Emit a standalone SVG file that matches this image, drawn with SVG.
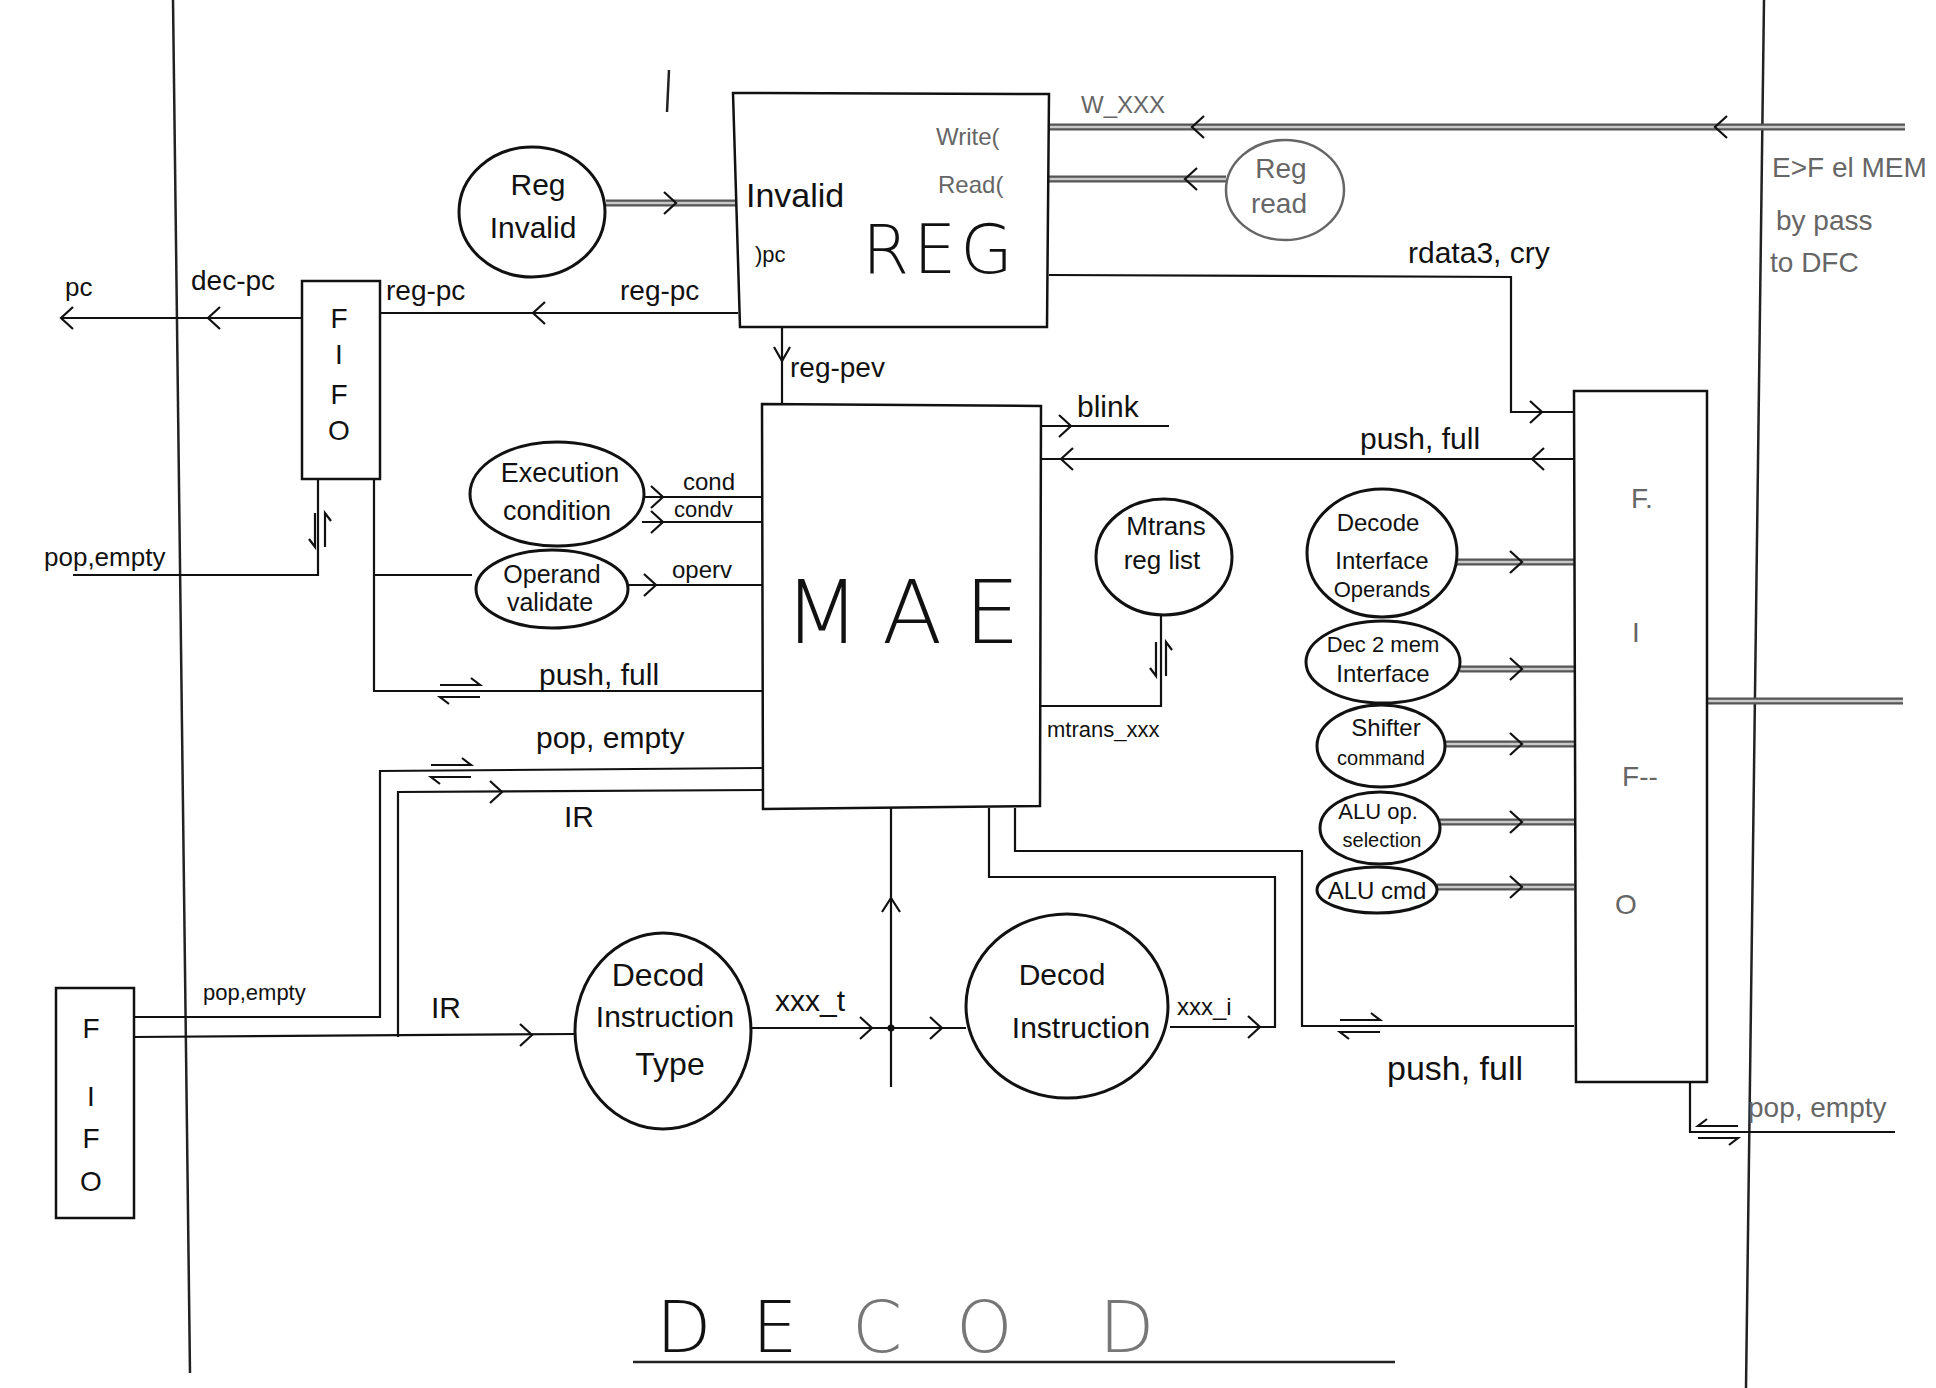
<svg xmlns="http://www.w3.org/2000/svg" xmlns:xlink="http://www.w3.org/1999/xlink" width="1936" height="1388" viewBox="0 0 1936 1388">
<style>
  text { font-family: "Liberation Sans", "DejaVu Sans", sans-serif; fill: #111; }
  .thin { font-family: "DejaVu Sans", "Liberation Sans", sans-serif; font-weight: 200; }
  .box { fill: #fff; stroke: #111; stroke-width: 2.5; }
  .bubble { fill: #fff; stroke: #111; stroke-width: 3; }
  .bubble-g { fill: #fff; stroke: #666; stroke-width: 2.5; }
  .wire { fill: none; stroke: #111; stroke-width: 2.2; }
  .frame { fill: none; stroke: #222; stroke-width: 2.5; }
  .bus-o { fill: none; stroke: #555; stroke-width: 7; }
  .bus-i { fill: none; stroke: #c8c8c8; stroke-width: 2.5; }
  .g { fill: #666; }
  .c { text-anchor: middle; }
  .fifo { font-size: 28px; text-anchor: middle; }
</style>
<defs>
  <path id="cr" d="M-7,-11 L5,0 L-7,11" fill="none" stroke="#111" stroke-width="2.2"/>
  <path id="cl" d="M7,-11 L-5,0 L7,11" fill="none" stroke="#111" stroke-width="2.2"/>
  <path id="cu" d="M-9,8 L0,-6 L9,8" fill="none" stroke="#111" stroke-width="2.2"/>
  <path id="cd" d="M-8,-8 L0,6 L8,-8" fill="none" stroke="#111" stroke-width="2.2"/>
  <path id="dh" d="M0,-6 H40 L31,-13 M40,6 H0 L9,13" fill="none" stroke="#111" stroke-width="2.2"/>
  <path id="dv" d="M-5,0 V34 L-11,26 M5,34 V0 L11,8" fill="none" stroke="#111" stroke-width="2.2"/>
</defs>

<!-- page frame lines -->
<g id="frame">
  <path class="frame" d="M173,0 L190,1373"/>
  <path class="frame" d="M1764,0 L1746,1388" stroke="#444" stroke-width="2"/>
  <path class="frame" d="M669,70 L667,112"/>
</g>

<!-- connectors -->
<g id="connectors">
  <!-- bus (double grey) lines -->
  <path class="bus-o" d="M606,203 H736"/><path class="bus-i" d="M606,203 H736"/>
  <path class="bus-o" d="M1049,127 H1905"/><path class="bus-i" d="M1049,127 H1905"/>
  <path class="bus-o" d="M1049,179 H1226"/><path class="bus-i" d="M1049,179 H1226"/>
  <path class="bus-o" d="M1457,562 H1574"/><path class="bus-i" d="M1457,562 H1574"/>
  <path class="bus-o" d="M1460,669 H1574"/><path class="bus-i" d="M1460,669 H1574"/>
  <path class="bus-o" d="M1446,744 H1574"/><path class="bus-i" d="M1446,744 H1574"/>
  <path class="bus-o" d="M1440,822 H1574"/><path class="bus-i" d="M1440,822 H1574"/>
  <path class="bus-o" d="M1437,887 H1574"/><path class="bus-i" d="M1437,887 H1574"/>
  <path class="bus-o" d="M1707,701 H1903" stroke="#999"/><path class="bus-i" d="M1707,701 H1903" stroke="#ddd"/>
  <use href="#cr" x="671" y="203"/>
  <use href="#cl" x="1197" y="127"/>
  <use href="#cl" x="1720" y="127"/>
  <use href="#cl" x="1190" y="179"/>
  <use href="#cr" x="1517" y="562"/>
  <use href="#cr" x="1517" y="669"/>
  <use href="#cr" x="1517" y="744"/>
  <use href="#cr" x="1517" y="822"/>
  <use href="#cr" x="1517" y="887"/>

  <!-- thin wires -->
  <path class="wire" d="M302,318 H61"/>
  <use href="#cl" x="213" y="318"/>
  <use href="#cl" x="66" y="318"/>
  <path class="wire" d="M738,313 H380"/>
  <use href="#cl" x="538" y="313"/>
  <path class="wire" d="M318,480 V575 H73"/>
  <use href="#dv" x="320" y="513"/>
  <path class="wire" d="M374,480 V691 H762"/>
  <use href="#dh" x="440" y="691"/>
  <path class="wire" d="M374,575 H472"/>
  <path class="wire" d="M644,497 H762"/>
  <use href="#cr" x="658" y="497"/>
  <path class="wire" d="M642,522 H762"/>
  <use href="#cr" x="658" y="522"/>
  <path class="wire" d="M628,585 H762"/>
  <use href="#cr" x="651" y="585"/>
  <path class="wire" d="M134,1017 H380 V771 L762,768"/>
  <use href="#dh" x="431" y="771"/>
  <path class="wire" d="M398,1037 V792 L762,790"/>
  <use href="#cr" x="497" y="792"/>
  <path class="wire" d="M134,1037 L576,1034"/>
  <use href="#cr" x="527" y="1035"/>
  <path class="wire" d="M782,327 V404"/>
  <use href="#cd" x="782" y="355"/>
  <path class="wire" d="M1041,426 H1169"/>
  <use href="#cr" x="1066" y="426"/>
  <path class="wire" d="M1041,459 H1574"/>
  <use href="#cl" x="1066" y="459"/>
  <use href="#cl" x="1537" y="459"/>
  <path class="wire" d="M1049,275 L1511,277 V412 H1574"/>
  <use href="#cr" x="1537" y="412"/>
  <path class="wire" d="M1161,615 V706 H1041"/>
  <use href="#dv" x="1161" y="642"/>
  <path class="wire" d="M750,1028 H966"/>
  <use href="#cr" x="867" y="1028"/>
  <use href="#cr" x="937" y="1028"/>
  <circle cx="891" cy="1028" r="3.5" fill="#111"/>
  <path class="wire" d="M891,1087 V807"/>
  <use href="#cu" x="891" y="904"/>
  <path class="wire" d="M1015,808 V851 H1302 V1026 H1574"/>
  <use href="#dh" x="1340" y="1026"/>
  <path class="wire" d="M1170,1027 H1275 V877 H989 V808"/>
  <use href="#cr" x="1255" y="1027"/>
  <path class="wire" d="M1690,1082 V1132 H1895"/>
  <use href="#dh" x="1697" y="1132" transform="translate(3435,0) scale(-1,1)"/>

  <!-- connector labels -->
  <text x="65" y="296" font-size="26">pc</text>
  <text x="191" y="290" font-size="28">dec-pc</text>
  <text x="386" y="300" font-size="28">reg-pc</text>
  <text x="620" y="300" font-size="28">reg-pc</text>
  <text x="44" y="566" font-size="26">pop,empty</text>
  <text x="790" y="377" font-size="28">reg-pev</text>
  <text x="1081" y="113" font-size="24" class="g">W_XXX</text>
  <text x="1408" y="263" font-size="30">rdata3, cry</text>
  <text x="1077" y="417" font-size="30">blink</text>
  <text x="1360" y="449" font-size="30">push, full</text>
  <text x="683" y="490" font-size="24">cond</text>
  <text x="674" y="517" font-size="22" fill="#444">condv</text>
  <text x="672" y="578" font-size="24">operv</text>
  <text x="539" y="685" font-size="30">push, full</text>
  <text x="536" y="748" font-size="30">pop, empty</text>
  <text x="564" y="827" font-size="30">IR</text>
  <text x="1047" y="737" font-size="22">mtrans_xxx</text>
  <text x="203" y="1000" font-size="22">pop,empty</text>
  <text x="431" y="1018" font-size="30">IR</text>
  <text x="775" y="1011" font-size="30">xxx_t</text>
  <text x="1177" y="1015" font-size="24">xxx_i</text>
  <text x="1387" y="1080" font-size="34">push, full</text>
  <text x="1748" y="1117" font-size="28" class="g">pop, empty</text>
</g>

<!-- REG -->
<g id="reg">
  <path class="box" d="M733,93 L1049,94 L1047,327 L740,327 Z"/>
  <text x="746" y="207" font-size="34">Invalid</text>
  <text x="755" y="262" font-size="22">)pc</text>
  <text x="936" y="145" font-size="24" class="g">Write(</text>
  <text x="938" y="193" font-size="24" class="g">Read(</text>
  <text class="thin" x="862" y="273" font-size="68" letter-spacing="4">REG</text>
</g>

<!-- MAE -->
<g id="mae">
  <path class="box" d="M762,404 L1041,406 L1040,806 L763,809 Z"/>
  <text class="thin" x="784" y="643" font-size="88" letter-spacing="22">MAE</text>
</g>

<!-- FIFO top-left -->
<g id="fifo-top-left">
  <rect class="box" x="302" y="281" width="78" height="198"/>
  <text class="fifo" x="339" y="328">F</text>
  <text class="fifo" x="339" y="364" font-size="24">I</text>
  <text class="fifo" x="339" y="404">F</text>
  <text class="fifo" x="339" y="440">O</text>
</g>

<!-- FIFO bottom-left -->
<g id="fifo-bottom-left">
  <rect class="box" x="56" y="988" width="78" height="230"/>
  <text class="fifo" x="91" y="1038">F</text>
  <text class="fifo" x="91" y="1106" font-size="24">I</text>
  <text class="fifo" x="91" y="1148">F</text>
  <text class="fifo" x="91" y="1191">O</text>
</g>

<!-- FIFO right -->
<g id="fifo-right">
  <path class="box" d="M1574,391 L1707,391 L1707,1082 L1576,1082 Z" stroke-width="2"/>
  <text class="fifo g" x="1642" y="508" font-size="38">F.</text>
  <text class="fifo g" x="1636" y="642" font-size="38">I</text>
  <text class="fifo g" x="1640" y="786" font-size="38">F--</text>
  <text class="fifo g" x="1626" y="914" font-size="38">O</text>
</g>

<g id="reg-invalid">
  <ellipse class="bubble" cx="532" cy="212" rx="73" ry="65"/>
  <text class="c" x="538" y="195" font-size="30">Reg</text>
  <text class="c" x="533" y="238" font-size="30">Invalid</text>
</g>

<g id="reg-read">
  <ellipse class="bubble-g" cx="1285" cy="190" rx="59" ry="50"/>
  <text class="c g" x="1281" y="178" font-size="28">Reg</text>
  <text class="c g" x="1279" y="213" font-size="28">read</text>
</g>

<g id="execution-condition">
  <ellipse class="bubble" cx="557" cy="494" rx="87" ry="52"/>
  <text class="c" x="560" y="482" font-size="27">Execution</text>
  <text class="c" x="557" y="520" font-size="27">condition</text>
</g>

<g id="operand-validate">
  <ellipse class="bubble" cx="552" cy="589" rx="76" ry="39"/>
  <text class="c" x="552" y="583" font-size="25">Operand</text>
  <text class="c" x="550" y="611" font-size="25">validate</text>
</g>

<g id="mtrans-reg-list">
  <ellipse class="bubble" cx="1164" cy="557" rx="68" ry="58"/>
  <text class="c" x="1166" y="535" font-size="26">Mtrans</text>
  <text class="c" x="1162" y="569" font-size="26">reg list</text>
</g>

<g id="decode-interface-operands">
  <ellipse class="bubble" cx="1382" cy="553" rx="75" ry="64"/>
  <text class="c" x="1378" y="531" font-size="24">Decode</text>
  <text class="c" x="1382" y="569" font-size="24">Interface</text>
  <text class="c" x="1382" y="597" font-size="22">Operands</text>
</g>

<g id="dec2mem-interface">
  <ellipse class="bubble" cx="1383" cy="662" rx="77" ry="41"/>
  <text class="c" x="1383" y="652" font-size="22">Dec 2 mem</text>
  <text class="c" x="1383" y="682" font-size="24">Interface</text>
</g>

<g id="shifter-command">
  <ellipse class="bubble" cx="1381" cy="746" rx="64" ry="41"/>
  <text class="c" x="1386" y="736" font-size="24">Shifter</text>
  <text class="c" x="1381" y="765" font-size="20">command</text>
</g>

<g id="alu-op-selection">
  <ellipse class="bubble" cx="1380" cy="828" rx="60" ry="36"/>
  <text class="c" x="1378" y="819" font-size="22">ALU op.</text>
  <text class="c" x="1382" y="847" font-size="20">selection</text>
</g>

<g id="alu-cmd">
  <ellipse class="bubble" cx="1377" cy="890" rx="60" ry="23"/>
  <text class="c" x="1377" y="899" font-size="24">ALU cmd</text>
</g>

<g id="decod-instruction-type">
  <ellipse class="bubble" cx="663" cy="1031" rx="88" ry="98"/>
  <text class="c" x="658" y="986" font-size="32">Decod</text>
  <text class="c" x="665" y="1027" font-size="30">Instruction</text>
  <text class="c" x="670" y="1075" font-size="32">Type</text>
</g>

<g id="decod-instruction">
  <ellipse class="bubble" cx="1067" cy="1006" rx="101" ry="92"/>
  <text class="c" x="1062" y="985" font-size="30">Decod</text>
  <text class="c" x="1081" y="1038" font-size="30">Instruction</text>
</g>

<!-- side note -->
<g id="note">
  <text x="1772" y="177" font-size="28" class="g">E&gt;F el MEM</text>
  <text x="1776" y="230" font-size="28" class="g">by pass</text>
  <text x="1770" y="272" font-size="28" class="g">to DFC</text>
</g>

<!-- title -->
<g id="title">
  <text class="thin" y="1352" font-size="72"><tspan x="656">D</tspan><tspan x="752">E</tspan><tspan x="852" fill="#777">C</tspan><tspan x="956" fill="#777">O</tspan><tspan x="1099" fill="#777">D</tspan></text>
  <path class="frame" d="M633,1362 H1395" stroke-width="2"/>
</g>
</svg>
